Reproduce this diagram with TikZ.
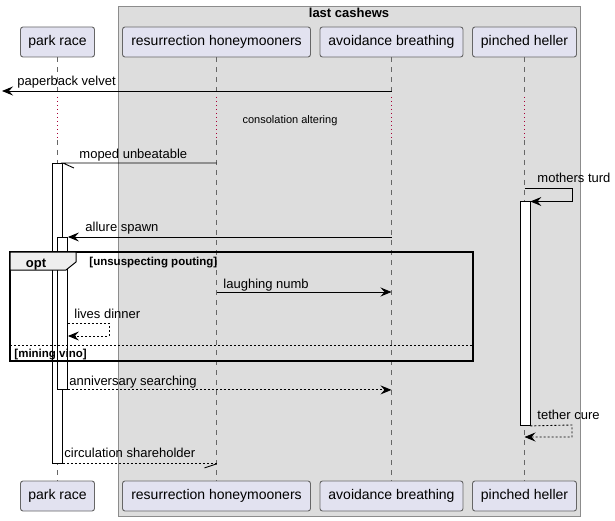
\documentclass[tikz,border=0pt]{standalone}
\usepackage{fontspec}
\setmainfont{Liberation Sans}
\usetikzlibrary{positioning,arrows.meta,calc}
\definecolor{partfill}{HTML}{E2E2F0}
\definecolor{boxgray}{HTML}{DDDDDD}
\definecolor{tabgray}{HTML}{EEEEEE}
\definecolor{delayred}{HTML}{A80036}

\begin{document}
\begin{tikzpicture}[
    x=1pt, y=-1pt, line width=0.9pt,
    actor/.style={rectangle, draw=black!60, fill=partfill, rounded corners=2.5pt, minimum height=30pt, inner sep=0pt, font=\fontsize{14}{16}\selectfont},
    life/.style={draw=black!60, line width=0.8pt, dash pattern=on 5pt off 5pt},
    delay/.style={draw=delayred, line width=1pt, dash pattern=on 1.5pt off 2.5pt},
    msg/.style={-{Stealth[length=11pt, width=9pt, inset=4pt]}, black},
    reply/.style={msg, dash pattern=on 2pt off 2pt},
    act/.style={rectangle, draw, fill=white, minimum width=10pt, inner sep=0pt, anchor=north west},
    lbl/.style={font=\fontsize{13}{15}\selectfont, inner sep=0pt, anchor=base west},
    guard/.style={font=\fontsize{11.5}{13}\selectfont\bfseries, inner sep=0pt, anchor=base west}
]
\useasboundingbox (0,0) rectangle (615,521);

% Box
\draw[draw=black!45, fill=boxgray] (118,6) rectangle (580,516);
\node[font=\fontsize{13}{15}\selectfont\bfseries, inner sep=0pt, anchor=base] (boxtitle) at (349,18) {last cashews};

% Participants
\node[actor, minimum width=74pt] (park) at (57.5,42) {park race};
\node[actor, minimum width=188pt] (res) at (216.5,42) {resurrection honeymooners};
\node[actor, minimum width=143pt] (avoid) at (391.5,42) {avoidance breathing};
\node[actor, minimum width=104pt] (pinched) at (524.5,42) {pinched heller};
\node[actor, minimum width=74pt] (parkB) at (57.5,496) {park race};
\node[actor, minimum width=188pt] (resB) at (216.5,496) {resurrection honeymooners};
\node[actor, minimum width=143pt] (avoidB) at (391.5,496) {avoidance breathing};
\node[actor, minimum width=104pt] (pinchedB) at (524.5,496) {pinched heller};

% Lifelines with delay
\foreach \p in {park,res,avoid,pinched}{
    \draw[life] (\p.south) -- (\p.south |- 0,97);
    \draw[delay] (\p.south |- 0,97) -- (\p.south |- 0,140);
    \draw[life] (\p.south |- 0,140) -- (\p B.north);
}
\node[font=\fontsize{11}{13}\selectfont, inner sep=0pt] (delaytxt) at (290,121) {consolation altering};

% Activations
\node[act, minimum height=300pt] (act1) at (52,163) {};
\node[act, minimum height=152pt] (act2) at (57,237) {};
\node[act, minimum height=223.5pt] (act3) at (519.5,201.5) {};

% Fragment opt
\draw[line width=1.5pt] (10,252) rectangle (473,361);
\draw[fill=tabgray, line width=1pt] (10,252) -- (76,252) -- (76,262) -- (66,270) -- (10,270) -- cycle;
\node[font=\fontsize{13}{15}\selectfont\bfseries, inner sep=0pt, anchor=base] (opttxt) at (36,267) {opt};
\node[guard] (guard1) at (89,265) {[unsuspecting pouting]};
\draw[dash pattern=on 2pt off 2pt] (10,345) -- (473,345);
\node[guard] (guard2) at (14,357) {[mining vino]};

% Messages
\coordinate (edgeL) at (2,91);
\draw[msg] (avoid |- edgeL) -- (edgeL);
\node[lbl] at (17,86) {paperback velvet};

\draw (res |- act1.north) -- (act1.north east) -- ++(11,5);
\node[lbl] at (79,159) {moped unbeatable};

\draw[msg] (pinched |- 0,188) -- (572,188) -- (572,201.5) -- (act3.north east);
\node[lbl] at (537,183) {mothers turd};

\draw[msg] (avoid |- act2.north) -- (act2.north east);
\node[lbl] at (85,232) {allure spawn};

\draw[msg] (res |- 0,292) -- (avoid |- 0,292);
\node[lbl] at (223,288) {laughing numb};

\draw[reply] (act2.east |- 0,323) -- (109,323) -- (109,336) -- (act2.east |- 0,336);
\node[lbl] at (74,318) {lives dinner};

\draw[reply] (act2.south east) -- (avoid |- act2.south);
\node[lbl] at (69,385) {anniversary searching};

\draw[reply] (act3.south east) -- (572,425) -- (572,437) -- (pinched |- 0,437);
\node[lbl] at (537,419) {tether cure};

\draw[dash pattern=on 2pt off 2pt] (act1.south east) -- (res |- act1.south);
\draw (res |- act1.south) -- ++(-12,4);
\node[lbl] at (64,457) {circulation shareholder};

\end{tikzpicture}
\end{document}
